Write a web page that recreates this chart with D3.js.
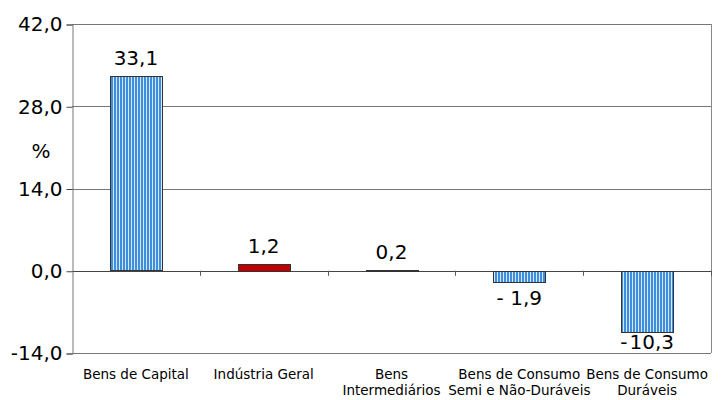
<!DOCTYPE html>
<html>
<head>
<meta charset="utf-8">
<script src="https://cdn.jsdelivr.net/npm/d3@7"></script>
<style>
  body { margin: 0; background: #fff; }
  svg text { font-family: "DejaVu Sans", Verdana, sans-serif; fill: #000; }
</style>
</head>
<body>
<div id="chart"></div>
<script>
// Data
var categories = ["Bens de Capital", "Indústria Geral", "Bens Intermediários", "Bens de Consumo Semi e Não-Duráveis", "Bens de Consumo Duráveis"];
var catLines = [["Bens de Capital"], ["Indústria Geral"], ["Bens", "Intermediários"], ["Bens de Consumo", "Semi e Não-Duráveis"], ["Bens de Consumo", "Duráveis"]];
var values = [33.1, 1.2, 0.2, -1.9, -10.3];
var valueLabels = ["33,1", "1,2", "0,2", "- 1,9", "-\u200a10,3"];
var barKinds = ["stripe", "red", "dark", "stripe", "stripe"];
var yTicks = [-14, 0, 14, 28, 42];

var width = 723, height = 400;
var plotLeft = 72, plotRight = 711, plotTop = 24, plotBottom = 353;

var svg = d3.select("#chart").append("svg")
    .attr("width", width)
    .attr("height", height);

var defs = svg.append("defs");
var pat = defs.append("pattern")
    .attr("id", "stripes")
    .attr("patternUnits", "userSpaceOnUse")
    .attr("width", 3)
    .attr("height", 10);
pat.append("rect").attr("width", 3).attr("height", 10).attr("fill", "#d6e6f6");
pat.append("rect").attr("width", 2).attr("height", 10).attr("fill", "#3b8fdc");

var x = d3.scaleBand().domain(categories).range([plotLeft, plotRight]).paddingInner(0).paddingOuter(0);
var y = d3.scaleLinear().domain([-14, 42]).range([plotBottom, plotTop]);

// gridlines
svg.append("g")
    .selectAll("line")
    .data(yTicks)
    .enter()
    .append("line")
    .attr("x1", plotLeft)
    .attr("x2", plotRight)
    .attr("y1", function(d){ return Math.round(y(d)) + 0.5; })
    .attr("y2", function(d){ return Math.round(y(d)) + 0.5; })
    .attr("stroke", function(d){ return d === 0 ? "#444" : "#777"; })
    .attr("stroke-width", 1);

// right border
svg.append("line")
    .attr("x1", plotRight + 0.5).attr("x2", plotRight + 0.5)
    .attr("y1", plotTop).attr("y2", plotBottom)
    .attr("stroke", "#888");

// y axis
var yAxis = d3.axisLeft(y).tickValues(yTicks).tickSize(6).tickPadding(4)
    .tickFormat(function(d){ return d.toFixed(1).replace(".", ","); });
var gy = svg.append("g")
    .attr("transform", "translate(" + (plotLeft + 0.5) + ",0.5)")
    .call(yAxis);
gy.select(".domain").attr("stroke", "#777");
gy.selectAll(".tick line").attr("stroke", "#444");
gy.selectAll(".tick text")
    .attr("font-size", 20)
    .attr("font-family", "DejaVu Sans")
    .attr("fill", "#000");

// category separator ticks on zero line
var sepX = categories.slice(1).map(function(c){ return x(c); }).concat([plotRight]);
svg.append("g")
    .selectAll("line")
    .data(sepX)
    .enter()
    .append("line")
    .attr("x1", function(d){ return Math.round(d) + 0.5; })
    .attr("x2", function(d){ return Math.round(d) + 0.5; })
    .attr("y1", y(0))
    .attr("y2", y(0) + 5)
    .attr("stroke", "#555");

// bars
var barW = 52;
var fills = { stripe: "url(#stripes)", red: "#c00000", dark: "#222" };
svg.append("g")
    .selectAll("rect")
    .data(values)
    .enter()
    .append("rect")
    .attr("x", function(d, i){ return Math.round(x(categories[i]) + x.bandwidth() / 2 - barW / 2) + 0.5; })
    .attr("y", function(d){ return Math.round(y(Math.max(0, d))) + 0.5; })
    .attr("width", barW)
    .attr("height", function(d){ return Math.max(1, Math.round(Math.abs(y(d) - y(0)))); })
    .attr("fill", function(d, i){ return fills[barKinds[i]]; })
    .attr("stroke", "#333")
    .attr("stroke-width", 1);

// value labels
svg.append("g")
    .selectAll("text")
    .data(values)
    .enter()
    .append("text")
    .attr("x", function(d, i){ return x(categories[i]) + x.bandwidth() / 2; })
    .attr("y", function(d){ return d >= 0 ? y(d) - 11 : Math.min(y(d) + 23, plotBottom - 4); })
    .attr("text-anchor", "middle")
    .attr("font-size", 20)
    .text(function(d, i){ return valueLabels[i]; });

// category labels
var catG = svg.append("g")
    .selectAll("text")
    .data(categories)
    .enter()
    .append("text")
    .attr("text-anchor", "middle")
    .attr("font-size", 13.5)
    .attr("x", function(d){ return x(d) + x.bandwidth() / 2; })
    .attr("y", 379);
catG.selectAll("tspan")
    .data(function(d, i){ return catLines[i]; })
    .enter()
    .append("tspan")
    .attr("x", function(){ return d3.select(this.parentNode).attr("x"); })
    .attr("dy", function(d, i){ return i === 0 ? 0 : 16; })
    .text(function(d){ return d; });

// % label
svg.append("text")
    .attr("x", 41)
    .attr("y", 158)
    .attr("text-anchor", "middle")
    .attr("font-size", 20)
    .text("%");
</script>
</body>
</html>
